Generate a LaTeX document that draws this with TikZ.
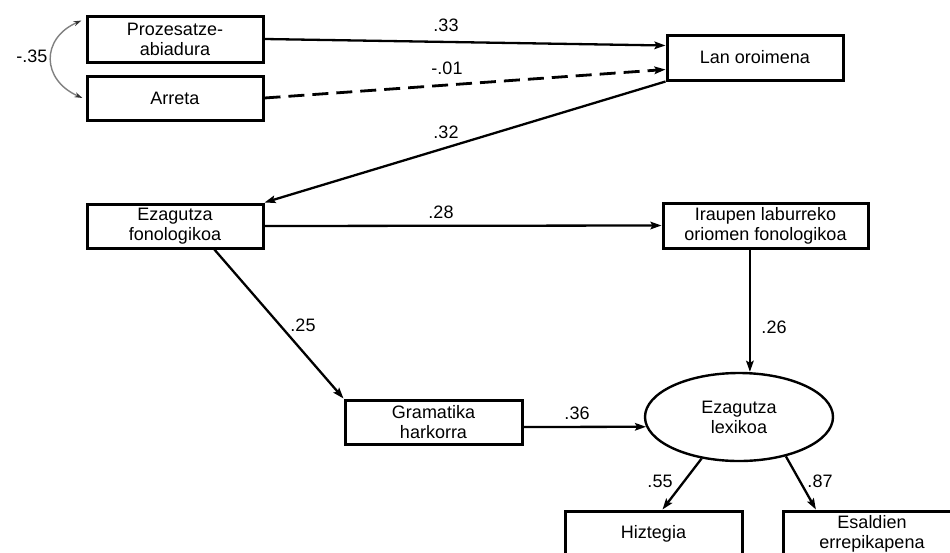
\documentclass[tikz,border=0pt]{standalone}
\usepackage{fontspec}
\setmainfont{Liberation Sans}
\usetikzlibrary{shapes.geometric,arrows.meta,calc}
\tikzset{
 txt/.style={font=\fontsize{18}{20}\selectfont},
 box/.style={draw, line width=3pt, minimum height=45pt, inner sep=0pt, align=center, txt},
 lbl/.style={inner sep=0pt, txt},
 arr/.style={line width=2.3pt, -{Stealth[length=11pt,width=7.5pt,inset=2pt]}},
 dasharr/.style={arr, line width=2.8pt, dash pattern=on 16pt off 8pt},
 corr/.style={draw=gray, line width=1.4pt, {Stealth[length=8pt,width=5pt,color=black!80]}-{Stealth[length=8pt,width=5pt,color=black!80]}},
}
\begin{document}
\begin{tikzpicture}[x=1pt,y=-1pt]
\fill[white] (0,0) rectangle (950,552);
\useasboundingbox (0,0) rectangle (950,552);

\node[box, minimum width=176pt, minimum height=46pt] (P) at (175,39) {Prozesatze-\\abiadura};
\node[box, minimum width=176pt, minimum height=44pt] (A) at (175,98) {Arreta};
\node[box, minimum width=176pt] (L) at (755,57.5) {Lan oroimena};
\node[box, minimum width=176pt, minimum height=44pt] (EF) at (175,226) {Ezagutza\\fonologikoa};
\node[box, minimum width=205pt] (IR) at (765.5,225.5) {Iraupen laburreko\\oriomen fonologikoa};
\node[box, minimum width=177pt, minimum height=44pt] (G) at (433.5,422) {Gramatika\\harkorra};
\node[draw, ellipse, line width=2.4pt, minimum width=188pt, minimum height=88pt, inner sep=0pt, align=center, txt] (EL) at (739,417) {Ezagutza\\lexikoa};
\node[box, minimum width=177pt, minimum height=46pt] (H) at (653.5,534) {Hiztegia};
\node[box, minimum width=178pt, minimum height=46pt] (ES) at (872,534) {Esaldien\\errepikapena};

\node[lbl] (l35) at (32,56) {-.35};
\node[lbl] (l33) at (446,25) {.33};
\node[lbl] (l01) at (447,68) {-.01};
\node[lbl] (l32) at (446,132) {.32};
\node[lbl] (l28) at (441,212) {.28};
\node[lbl] (l25) at (303,325) {.25};
\node[lbl] (l26) at (774,327) {.26};
\node[lbl] (l36) at (577,413) {.36};
\node[lbl] (l55) at (660,481) {.55};
\node[lbl] (l87) at (820,481) {.87};

\draw[arr] (P.east) -- ($(L.north west)!0.25!(L.south west)$);
\draw[dasharr] (A.east) -- ($(L.north west)!0.75!(L.south west)$);
\draw[arr] (L.south west) -- (EF.north east);
\draw[arr] (EF.east) -- (IR.west);
\draw[arr] ($(EF.south west)!0.72!(EF.south east)$) -- (G.north west);
\coordinate (ir) at ($(IR.south west)!0.425!(IR.south east)$);
\draw[arr] (ir) -- (ir |- EL.north);
\draw[arr] ([yshift=-5pt]G.east) -- (EL.186);
\draw[arr] (EL.228) -- ($(H.north west)!0.55!(H.north east)$);
\draw[arr] (EL.320) -- ($(ES.north west)!0.19!(ES.north east)$);
\coordinate (c1) at ($(P.north west)+(-4,6)$);
\coordinate (c2) at ($(A.west)+(-3,0)$);
\draw[corr] (c1) .. controls +(-41,18) and +(-41,-18) .. (c2);
\end{tikzpicture}
\end{document}
